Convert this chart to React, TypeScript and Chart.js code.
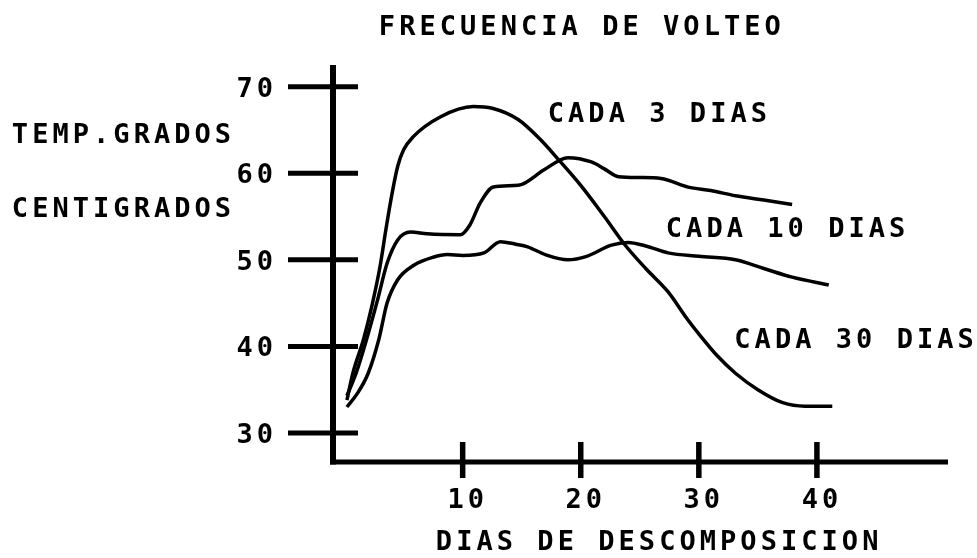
import React, { useEffect, useRef } from "react";
import { Chart, registerables } from "chart.js";

Chart.register(...registerables);

// ---- data ----
const titulo = "FRECUENCIA DE VOLTEO";
const tituloY = ["TEMP.GRADOS", "CENTIGRADOS"];
const tituloX = "DIAS DE DESCOMPOSICION";
const ticksX = [10, 20, 30, 40];
const ticksY = [30, 40, 50, 60, 70];

// curve peaking near 68 and falling to 33
const altaX = [0.2, 0.7, 1.6, 2.3, 3.0, 3.5, 4.0, 4.5, 5.0, 5.8, 8.1, 10.9, 12.5, 14.7, 16.5, 18.1, 20, 22, 23.7, 25.5, 27.4, 29, 30.2, 31.5, 33.1, 35, 37.1, 39, 41.3];
const altaY = [33.8, 36.9, 40.8, 44.6, 49.2, 53.5, 57.5, 60.8, 62.7, 64.2, 66.5, 67.7, 67.5, 66.2, 64.0, 61.6, 58.6, 55, 51.8, 49, 46.3, 43.2, 41.1, 39, 36.9, 35, 33.5, 33.1, 33.1];

// curve ending near 56
const mediaX = [0.2, 1, 1.8, 2.8, 3.6, 4.5, 5.6, 7, 9.8, 10.6, 11.5, 12.6, 14.7, 16.9, 18.9, 20.9, 22, 23.2, 25, 26.8, 29.1, 31, 33.1, 35.5, 37.9];
const mediaY = [34.3, 37, 40.5, 45.4, 49.6, 52.3, 53.2, 53, 52.9, 54.0, 56.6, 58.4, 58.6, 60.4, 61.8, 61.3, 60.5, 59.6, 59.5, 59.4, 58.4, 58, 57.4, 56.9, 56.4];

// curve ending near 47
const bajaX = [0.2, 1.1, 2, 2.9, 3.6, 4.5, 5.9, 7.5, 8.7, 10, 11.8, 13.2, 14.5, 15.5, 17, 18.9, 20.5, 22.6, 24, 25.5, 27.4, 30, 33.1, 35.5, 37.9, 41];
const bajaY = [33, 34.6, 36.9, 40.8, 45, 47.7, 49.4, 50.3, 50.6, 50.5, 50.8, 52.1, 51.8, 51.5, 50.6, 50, 50.4, 51.7, 52, 51.6, 50.8, 50.4, 50, 49, 48, 47.1];

const etiquetas = ["CADA 3 DIAS", "CADA 10 DIAS", "CADA 30 DIAS"];
const etiquetasX = [17.3, 27.3, 33.1];
const etiquetasY = [67.1, 53.8, 41.0];

const toPts = (xs: number[], ys: number[]) => xs.map((x, i) => ({ x, y: ys[i] }));

const FONT = 'bold 27px "DejaVu Sans Mono"';
const PITCH = 20.3;

function drawSpaced(ctx: CanvasRenderingContext2D, text: string, x: number, baseline: number, align: "left" | "center" | "right") {
  const n = text.length;
  let firstCenter: number;
  if (align === "left") firstCenter = x + 7;
  else if (align === "right") firstCenter = x - 7 - (n - 1) * PITCH;
  else firstCenter = x - ((n - 1) * PITCH) / 2;
  ctx.textAlign = "center";
  ctx.textBaseline = "alphabetic";
  for (let i = 0; i < n; i++) {
    ctx.fillText(text[i], firstCenter + i * PITCH, baseline);
  }
}

const axesPlugin = {
  id: "ejesDibujo",
  beforeDatasetsDraw(chart: any) {
    const ctx: CanvasRenderingContext2D = chart.ctx;
    const xs = chart.scales.x;
    const ys = chart.scales.y;
    const area = chart.chartArea;
    ctx.save();
    ctx.strokeStyle = "#000";
    ctx.fillStyle = "#000";
    ctx.lineCap = "butt";
    // y axis
    ctx.lineWidth = 6;
    ctx.beginPath();
    ctx.moveTo(area.left, area.top);
    ctx.lineTo(area.left, area.bottom + 2.5);
    ctx.stroke();
    // x axis
    ctx.lineWidth = 5;
    ctx.beginPath();
    ctx.moveTo(area.left - 3, area.bottom);
    ctx.lineTo(area.right, area.bottom);
    ctx.stroke();
    // y ticks
    ctx.lineWidth = 5;
    for (const v of ticksY) {
      const py = ys.getPixelForValue(v);
      ctx.beginPath();
      ctx.moveTo(area.left - 45, py);
      ctx.lineTo(area.left + 25, py);
      ctx.stroke();
    }
    // x ticks
    ctx.lineWidth = 5.5;
    for (const v of ticksX) {
      const px = xs.getPixelForValue(v);
      ctx.beginPath();
      ctx.moveTo(px, area.bottom - 20);
      ctx.lineTo(px, area.bottom + 16);
      ctx.stroke();
    }
    // text
    ctx.font = FONT;
    for (const v of ticksY) {
      const py = ys.getPixelForValue(v);
      drawSpaced(ctx, String(v), 272, py + 10, "right");
    }
    for (const v of ticksX) {
      const px = xs.getPixelForValue(v);
      drawSpaced(ctx, String(v), px + 3, 508, "center");
    }
    drawSpaced(ctx, titulo, 380, 35, "left");
    drawSpaced(ctx, tituloY[0], 13, 143, "left");
    drawSpaced(ctx, tituloY[1], 13, 217, "left");
    drawSpaced(ctx, tituloX, 437, 550, "left");
    etiquetas.forEach((t, i) => {
      const px = xs.getPixelForValue(etiquetasX[i]);
      const py = ys.getPixelForValue(etiquetasY[i]);
      drawSpaced(ctx, t, px, py + 10, "left");
    });
    ctx.restore();
  },
};

export default function App() {
  const ref = useRef<HTMLCanvasElement | null>(null);
  useEffect(() => {
    if (!ref.current) return;
    const mk = (xs: number[], ys: number[]) => ({
      data: toPts(xs, ys),
      borderColor: "#000",
      borderWidth: 3.5,
      pointRadius: 0,
      fill: false,
      tension: 0.4,
      cubicInterpolationMode: "monotone" as const,
      clip: false as any,
    });
    const chart = new Chart(ref.current, {
      type: "line",
      data: {
        datasets: [mk(altaX, altaY), mk(mediaX, mediaY), mk(bajaX, bajaY)],
      },
      options: {
        animation: false,
        responsive: false,
        devicePixelRatio: 1,
        layout: { padding: { left: 333, right: 29, top: 65, bottom: 96 } },
        scales: {
          x: { type: "linear", min: -0.98, max: 51.1, display: false },
          y: { type: "linear", min: 26.65, max: 72.5, display: false },
        },
        plugins: { legend: { display: false }, tooltip: { enabled: false }, title: { display: false } },
        events: [],
      },
      plugins: [axesPlugin],
    });
    return () => chart.destroy();
  }, []);
  return (
    <div style={{ position: "absolute", left: 0, top: 0, width: 977, height: 558, background: "#fff" }}>
      <canvas ref={ref} width={977} height={558} style={{ width: 977, height: 558, display: "block" }} />
    </div>
  );
}
